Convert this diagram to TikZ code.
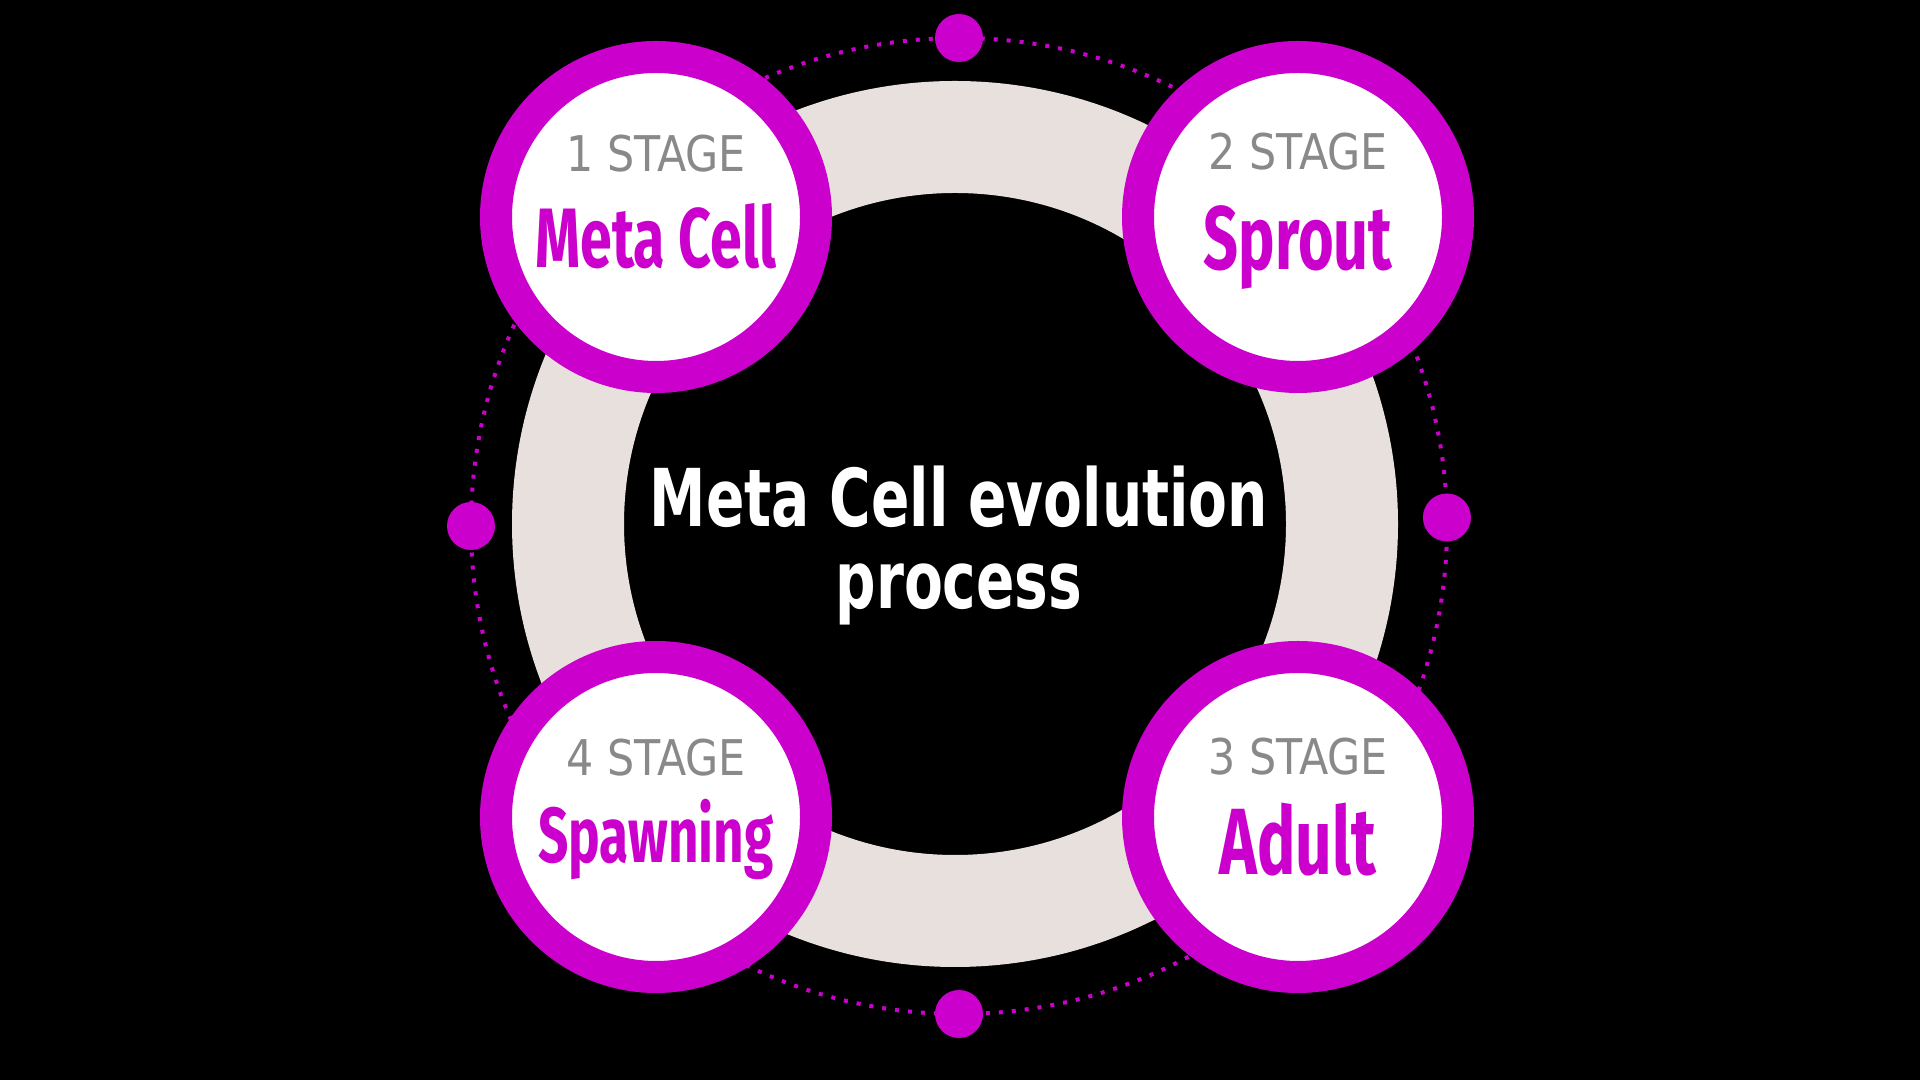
\documentclass[tikz,border=0pt]{standalone}
\usepackage{fontspec}
\usetikzlibrary{positioning}
\newfontfamily\stagefont{DejaVu Sans}[FakeStretch=0.87]
\newfontfamily\namefont{Fira Sans}[FakeStretch=0.68]
\newfontfamily\titlefont{DejaVu Sans}[FakeStretch=0.71]
\definecolor{stagemag}{RGB}{204,0,204}
\definecolor{ringbeige}{RGB}{232,224,220}
\definecolor{stagegray}{RGB}{137,137,137}

\begin{document}
\begin{tikzpicture}[
  stage/.style={circle, draw=stagemag, line width=0.32cm, fill=white, minimum size=3.2cm, inner sep=0pt},
  stagenum/.style={anchor=base, text=stagegray, inner sep=0pt, font=\stagefont\fontsize{14}{14}\selectfont},
  stagename/.style={anchor=base, text=stagemag, inner sep=0pt, font=\namefont\bfseries\fontsize{#1}{#1}\selectfont},
  title/.style={anchor=base, text=white, inner sep=0pt, font=\titlefont\bfseries\fontsize{22.7}{22.7}\selectfont},
  orbitdots/.style={stagemag, line width=0.04cm, dash pattern=on 0.04cm off 0.09cm},
]
  \fill[black] (0,0) rectangle (19.2,10.8);
  \useasboundingbox (0,0) rectangle (19.2,10.8);
  \coordinate (hub) at (9.55,5.56);
  \coordinate (orbit) at (9.59,5.54);

  % dotted orbit and its four dots
  \draw[orbitdots] (orbit) circle (4.88);
  \foreach \a in {1,90,180,270}
    \fill[stagemag] (orbit) ++(\a:4.88) circle (0.24);

  % beige ring
  \draw[ringbeige, line width=1.12cm] (hub) circle (3.87);

  % stages
  \node[stage] (s1) at (6.56,8.63) {};
  \node[stage] (s2) at (12.98,8.63) {};
  \node[stage] (s3) at (12.98,2.63) {};
  \node[stage] (s4) at (6.56,2.63) {};

  \node[stagenum] (n1) at ([yshift=0.45cm]s1.center) {1 STAGE};
  \node[stagename=24] (m1) at ([yshift=-0.51cm]s1.center) {Meta Cell};
  \node[stagenum] (n2) at ([yshift=0.47cm]s2.center) {2 STAGE};
  \node[stagename=25.6] (m2) at ([yshift=-0.53cm]s2.center) {Sprout};
  \node[stagenum] (n3) at ([yshift=0.42cm]s3.center) {3 STAGE};
  \node[stagename=26.8] (m3) at ([yshift=-0.58cm]s3.center) {Adult};
  \node[stagenum] (n4) at ([yshift=0.41cm]s4.center) {4 STAGE};
  \node[stagename=22.2] (m4) at ([yshift=-0.46cm]s4.center) {Spawning};

  % centre title
  \node[title] (title1) at (9.59,5.53) {Meta Cell evolution};
  \node[title] (title2) at (9.59,4.71) {process};
\end{tikzpicture}
\end{document}
